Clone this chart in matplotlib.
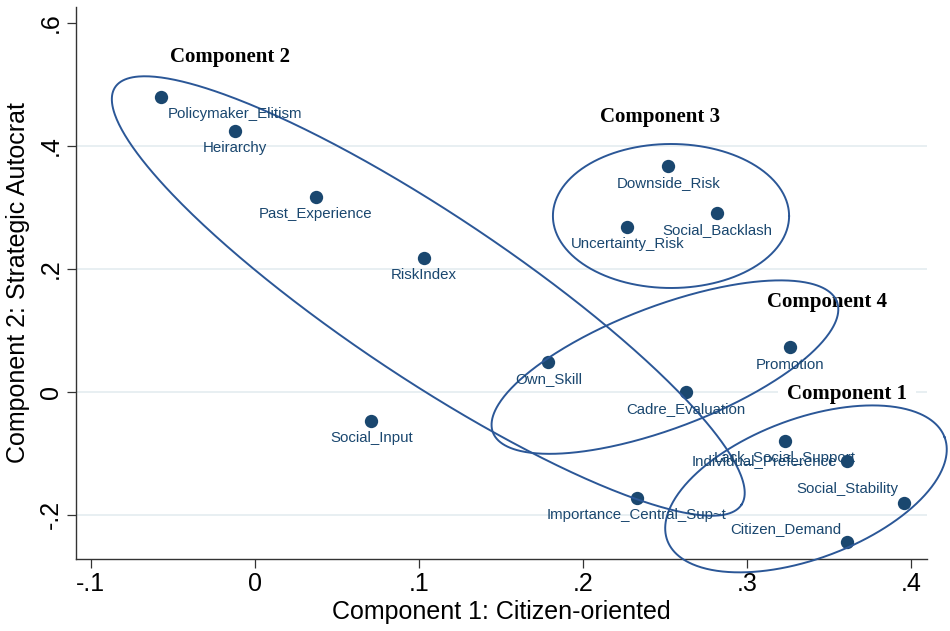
import numpy as np
import matplotlib
matplotlib.use("Agg")
import matplotlib.pyplot as plt

# === DATA: component loadings ===
variables = ["Policymaker_Elitism", "Heirarchy", "Past_Experience", "RiskIndex",
             "Social_Input", "Downside_Risk", "Social_Backlash", "Uncertainty_Risk",
             "Own_Skill", "Promotion", "Cadre_Evaluation", "Lack_Social_Support",
             "Individual_Preference", "Social_Stability", "Citizen_Demand",
             "Importance_Central_Sup~t"]
comp1 = [-0.057, -0.012, 0.037, 0.103, 0.071, 0.252, 0.282, 0.227,
         0.179, 0.326, 0.263, 0.323, 0.361, 0.396, 0.361, 0.233]
comp2 = [0.479, 0.424, 0.317, 0.217, -0.048, 0.367, 0.290, 0.268,
         0.048, 0.072, 0.000, -0.080, -0.113, -0.181, -0.245, -0.173]

# label placement (stata-like clock positions)
label_pos = {"Policymaker_Elitism": 5, "Individual_Preference": 9,
             "Social_Stability": 10, "Citizen_Demand": 10}

# component groupings: centre (x, y), semi-axes (in x units), angle
groups = ["Component 1", "Component 2", "Component 3", "Component 4"]
group_cx = [0.336, 0.1057, 0.2537, 0.250]
group_cy = [-0.158, 0.1556, 0.2857, 0.040]
group_a = [0.0902, 0.2295, 0.0720, 0.1122]
group_b = [0.0427, 0.0501, 0.0439, 0.0372]
group_ang = [20.4, -33.7, 0.0, 20.8]
group_tx = [0.361, -0.015, 0.247, 0.349]
group_ty = [-0.012, 0.536, 0.4385, 0.1377]

xticks = [-0.1, 0, 0.1, 0.2, 0.3, 0.4]
yticks = [-0.2, 0, 0.2, 0.4, 0.6]
xlim = (-0.1091, 0.4098)
ylim = (-0.272, 0.6255)

navy = "#1a476f"
ring = "#2b5797"
plt.rcParams["font.family"] = ["Liberation Sans", "DejaVu Sans"]

fig = plt.figure(figsize=(9.5, 6.31), dpi=100)
ax = fig.add_axes([0.08, 0.1141, 0.8958, 0.8748])
ax.set_xlim(*xlim)
ax.set_ylim(*ylim)

for s in ["top", "right"]:
    ax.spines[s].set_visible(False)
for s in ["left", "bottom"]:
    ax.spines[s].set_color("#333333")
    ax.spines[s].set_linewidth(1.0)

def fmt(v):
    if abs(v) < 1e-9:
        return "0"
    s = f"{v:.1f}".replace("0.", ".")
    return s

ax.set_xticks(xticks)
ax.set_xticklabels([fmt(v) for v in xticks], fontsize=18)
ax.set_yticks(yticks)
ax.set_yticklabels([fmt(v) for v in yticks], fontsize=18, rotation=90, va="center")
ax.tick_params(length=6.5, width=0.9, color="#333333", pad=3)

for g in [-0.2, 0, 0.2, 0.4]:
    ax.axhline(g, color="#e6eef1", lw=1.3, zorder=0)

ax.set_xlabel("Component 1: Citizen-oriented", fontsize=18, labelpad=3)
ax.set_ylabel("Component 2: Strategic Autocrat", fontsize=18, labelpad=6)

ax.scatter(comp1, comp2, s=92, color=navy, zorder=3, linewidths=0)

offsets = {6: (0, -12.3, "center"), 5: (4.3, -11.9, "left"),
           9: (-7.2, 0, "right"), 10: (-4.3, 9.8, "right")}
for name, x, y in zip(variables, comp1, comp2):
    dx, dy, ha = offsets[label_pos.get(name, 6)]
    ax.annotate(name, (x, y), xytext=(dx, dy), textcoords="offset points",
                ha=ha, va="center", fontsize=10.8, color=navy, zorder=5)

# aspect factor so ellipses keep their on-screen shape
bb = ax.get_window_extent()
k = (bb.width / (xlim[1] - xlim[0])) / (bb.height / (ylim[1] - ylim[0]))

t = np.linspace(0, 2 * np.pi, 500)
for cx, cy, a, b, ang in zip(group_cx, group_cy, group_a, group_b, group_ang):
    th = np.radians(ang)
    dx = a * np.cos(t) * np.cos(th) - b * np.sin(t) * np.sin(th)
    dy = a * np.cos(t) * np.sin(th) + b * np.sin(t) * np.cos(th)
    ax.plot(cx + dx, cy + dy * k, color=ring, lw=1.4, zorder=4, clip_on=False)

for name, tx, ty in zip(groups, group_tx, group_ty):
    kw = {}
    if name == "Component 1":
        kw["bbox"] = dict(boxstyle="square,pad=0.45", fc="white", ec="none")
    ax.text(tx, ty, name, ha="center", va="baseline", fontsize=15,
            fontweight="bold", family=["Liberation Serif", "DejaVu Serif"],
            color="black", zorder=3.5, **kw)

fig.savefig("out.png", dpi=100)
